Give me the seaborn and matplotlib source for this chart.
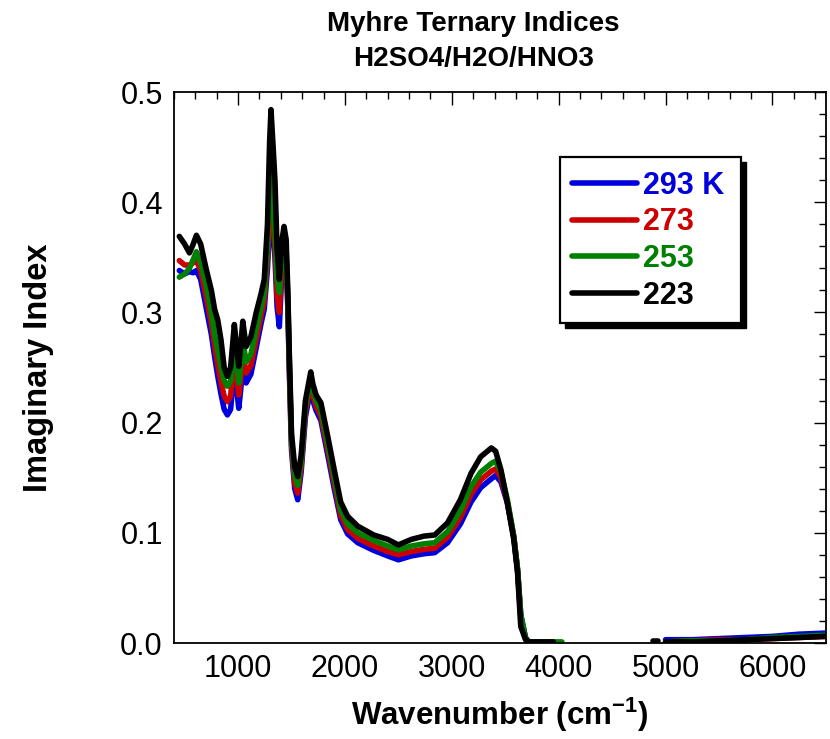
import numpy as np
import pandas as pd
import matplotlib
matplotlib.use("Agg")
import matplotlib.pyplot as plt
from matplotlib.lines import Line2D
from matplotlib.patches import Rectangle
import seaborn as sns

# ---------------- data ----------------
temps = ["293 K", "273", "253", "223"]
colors = ["#0000dd", "#cc0000", "#008000", "#000000"]

nan = np.nan
wn_main = [450, 500, 545, 580, 610, 650, 700, 750, 780, 810, 840, 870, 900, 930,
           965, 990, 1006, 1025, 1044, 1075, 1120, 1170, 1215, 1245, 1275, 1295,
           1308, 1325, 1345, 1365, 1386, 1410, 1430, 1450, 1465, 1480, 1500, 1530,
           1558, 1590, 1630, 1680, 1700, 1730, 1775, 1840, 1900, 1960, 2025, 2120,
           2270, 2400, 2500, 2620, 2740, 2840, 2960, 3080, 3180, 3270, 3370, 3410,
           3460, 3520, 3580, 3615, 3645, 3690, 3720, 3800, 3950, 4030]

k_293 = [0.338, 0.335, 0.337, 0.336, 0.338, 0.330, 0.305, 0.280, 0.260, 0.242, 0.226, 0.212, 0.207, 0.212,
         0.250, 0.228, 0.213, 0.230, 0.252, 0.236, 0.244, 0.268, 0.290, 0.303, 0.340, 0.380,
         0.397, 0.375, 0.350, 0.305, 0.287, 0.338, 0.358, 0.345, 0.305, 0.245, 0.175, 0.140,
         0.130, 0.155, 0.205, 0.232, 0.220, 0.211, 0.202, 0.170, 0.140, 0.112, 0.099, 0.091,
         0.084, 0.079, 0.0755, 0.079, 0.081, 0.082, 0.091, 0.108, 0.128, 0.141, 0.149, 0.152,
         0.146, 0.127, 0.096, 0.067, 0.026, 0.005, 0.001, 0.001, 0.001, nan]
k_273 = [0.347, 0.343, 0.343, 0.345, 0.347, 0.338, 0.315, 0.290, 0.270, 0.252, 0.237, 0.224, 0.219, 0.224,
         0.260, 0.240, 0.225, 0.240, 0.262, 0.245, 0.252, 0.276, 0.297, 0.310, 0.350, 0.390,
         0.405, 0.385, 0.360, 0.315, 0.300, 0.345, 0.362, 0.350, 0.310, 0.250, 0.180, 0.145,
         0.136, 0.160, 0.210, 0.236, 0.225, 0.215, 0.206, 0.175, 0.145, 0.116, 0.103, 0.095,
         0.088, 0.083, 0.080, 0.083, 0.085, 0.086, 0.096, 0.114, 0.135, 0.148, 0.156, 0.158,
         0.150, 0.128, 0.096, 0.066, 0.024, 0.004, 0.001, 0.001, 0.001, nan]
k_253 = [0.332, 0.335, 0.340, 0.348, 0.355, 0.345, 0.325, 0.300, 0.280, 0.265, 0.250, 0.238, 0.233, 0.238,
         0.272, 0.250, 0.236, 0.252, 0.275, 0.255, 0.262, 0.285, 0.305, 0.318, 0.360, 0.410,
         0.430, 0.405, 0.375, 0.330, 0.318, 0.355, 0.368, 0.355, 0.315, 0.255, 0.185, 0.152,
         0.143, 0.165, 0.215, 0.240, 0.230, 0.220, 0.211, 0.180, 0.150, 0.121, 0.108, 0.100,
         0.093, 0.088, 0.0845, 0.088, 0.090, 0.091, 0.101, 0.120, 0.142, 0.155, 0.163, 0.165,
         0.155, 0.130, 0.097, 0.067, 0.025, 0.004, 0.001, 0.001, 0.001, 0.001]
k_223 = [0.369, 0.362, 0.354, 0.362, 0.370, 0.362, 0.340, 0.320, 0.303, 0.293, 0.275, 0.250, 0.242, 0.250,
         0.289, 0.265, 0.251, 0.270, 0.292, 0.269, 0.278, 0.300, 0.317, 0.330, 0.380, 0.455,
         0.484, 0.455, 0.420, 0.357, 0.330, 0.365, 0.378, 0.366, 0.320, 0.260, 0.190, 0.160,
         0.151, 0.170, 0.220, 0.246, 0.235, 0.225, 0.218, 0.187, 0.157, 0.128, 0.115, 0.106,
         0.098, 0.094, 0.089, 0.094, 0.097, 0.098, 0.109, 0.130, 0.154, 0.169, 0.177, 0.174,
         0.157, 0.127, 0.094, 0.064, 0.015, 0.003, 0.001, 0.001, 0.001, nan]

wn_far = [5000, 5250, 5500, 5750, 6000, 6250, 6500]
kf_293 = [0.003, 0.003, 0.004, 0.005, 0.006, 0.008, 0.009]
kf_273 = [0.001, 0.002, 0.003, 0.003, 0.004, 0.005, 0.006]
kf_253 = [0.001, 0.002, 0.002, 0.003, 0.005, 0.006, 0.007]
kf_223 = [0.001, 0.001, 0.002, 0.003, 0.004, 0.005, 0.006]

wn_blip = [4885, 4925]
kb_223 = [0.002, 0.002]

main_vals = [k_293, k_273, k_253, k_223]
far_vals = [kf_293, kf_273, kf_253, kf_223]

rows = []
for t, mv, fv in zip(temps, main_vals, far_vals):
    for w, v in zip(wn_main, mv):
        rows.append((t, 0, w, v))
    for w, v in zip(wn_far, fv):
        rows.append((t, 1, w, v))
for w, v in zip(wn_blip, kb_223):
    rows.append(("223", 2, w, v))
df = pd.DataFrame(rows, columns=["temp", "seg", "wn", "k"]).dropna()

# ---------------- style ----------------
sns.set_style("white")
plt.rcParams["font.family"] = ["Liberation Sans", "DejaVu Sans"]
plt.rcParams["mathtext.fontset"] = "custom"
plt.rcParams["mathtext.bf"] = "Liberation Sans:bold"
plt.rcParams["mathtext.rm"] = "Liberation Sans"
for key in ["text.color", "axes.labelcolor", "xtick.color", "ytick.color",
            "axes.edgecolor"]:
    plt.rcParams[key] = "black"

fig = plt.figure(figsize=(8.30, 7.39), dpi=100)
ax = fig.add_axes([0.2096, 0.1299, 0.7854, 0.7456])

sns.lineplot(data=df, x="wn", y="k", hue="temp", units="seg", estimator=None,
             hue_order=temps, palette=colors, sort=False, linewidth=4.0,
             legend=False, ax=ax)

ax.set_xlim(400, 6500)
ax.set_ylim(0, 0.5)
ax.set_xticks([1000, 2000, 3000, 4000, 5000, 6000])
ax.set_xticks(np.arange(400, 6501, 200), minor=True)
ax.set_yticks([0.0, 0.1, 0.2, 0.3, 0.4, 0.5])
ax.set_yticks(np.arange(0, 0.501, 0.02), minor=True)
ax.set_yticklabels(["0.0", "0.1", "0.2", "0.3", "0.4", "0.5"])
ax.tick_params(which="both", direction="in", top=True, right=True, width=1.0,
               colors="black")
ax.tick_params(which="major", length=9, labelsize=22, pad=8)
ax.tick_params(which="minor", length=5)
for s in ax.spines.values():
    s.set_linewidth(1.3)
    s.set_color("black")

ax.set_xlabel("Wavenumber (cm$^{\\mathbf{-1}}$)", fontsize=22.5, fontweight="bold",
              labelpad=8)
ax.set_ylabel("Imaginary Index", fontsize=23.5, fontweight="bold", labelpad=48)
ax.set_title("Myhre Ternary Indices\nH2SO4/H2O/HNO3", fontsize=20,
             fontweight="bold", linespacing=1.45, pad=19, x=0.459)

# legend box with drop shadow
box_l, box_b, box_w, box_h = 0.592, 0.581, 0.2776, 0.301
ax.add_patch(Rectangle((box_l + 0.0077, box_b - 0.0091), box_w, box_h,
                       transform=ax.transAxes, facecolor="black",
                       edgecolor="black", zorder=5))
ax.add_patch(Rectangle((box_l, box_b), box_w, box_h, transform=ax.transAxes,
                       facecolor="white", edgecolor="black", linewidth=1.6,
                       zorder=6))

handles = [Line2D([0], [0], color=c, lw=4.0) for c in colors]
leg = ax.legend(handles, temps, loc="upper left", bbox_to_anchor=(0.6104, 0.8575),
                frameon=False,
                prop={"family": "Liberation Sans", "weight": "bold", "size": 22},
                handlelength=2.12, handletextpad=0.2, labelspacing=0.22,
                borderpad=0, borderaxespad=0)
leg.set_zorder(7)
for txt, c in zip(leg.get_texts(), colors):
    txt.set_color(c)

fig.savefig("out.png", dpi=100)
